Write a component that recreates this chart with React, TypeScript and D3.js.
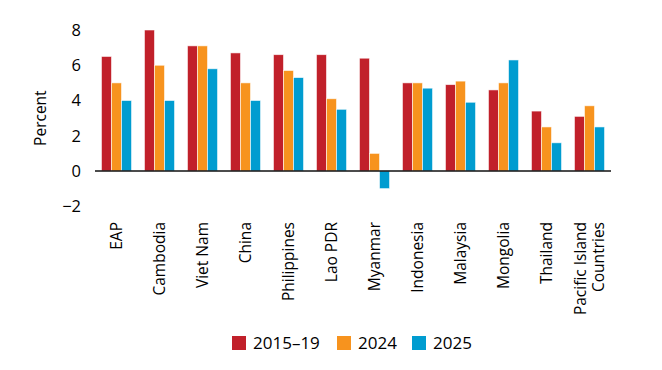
import React, {useEffect, useRef} from "react";
import * as d3 from "d3";

const paises = ["EAP", "Cambodia", "Viet Nam", "China", "Philippines", "Lao PDR", "Myanmar",
    "Indonesia", "Malaysia", "Mongolia", "Thailand", "Pacific Island\nCountries"];
const series = ["2015–19", "2024", "2025"];
const media2015a19 = [6.5, 8.0, 7.1, 6.7, 6.6, 6.6, 6.4, 5.0, 4.9, 4.6, 3.4, 3.1];
const valores2024 = [5.0, 6.0, 7.1, 5.0, 5.7, 4.1, 1.0, 5.0, 5.1, 5.0, 2.5, 3.7];
const valores2025 = [4.0, 4.0, 5.8, 4.0, 5.3, 3.5, -1.0, 4.7, 3.9, 6.3, 1.6, 2.5];
const yTicks = [-2, 0, 2, 4, 6, 8];
const cores = ["#c1202a", "#f7931e", "#009cd0"];

const LARGURA = 662;
const ALTURA = 370;
const FONTE = "'Open Sans', 'Noto Sans', sans-serif";

export default function App() {
    const ref = useRef<SVGSVGElement>(null);

    useEffect(() => {
        const svg = d3.select(ref.current);
        svg.selectAll("*").remove();

        const dados = [media2015a19, valores2024, valores2025];

        const x = d3.scaleBand<string>()
            .domain(paises)
            .range([95, 611])
            .paddingInner(0.3)
            .paddingOuter(0.15);

        const xSub = d3.scaleBand<string>()
            .domain(series)
            .range([0, x.bandwidth()]);

        const y = d3.scaleLinear()
            .domain([-2, 8])
            .range([171 + 2 * 17.625, 30]);

        const cor = d3.scaleOrdinal<string>().domain(series).range(cores);

        // barras
        svg.append("g")
            .selectAll("g")
            .data(paises)
            .join("g")
            .attr("transform", d => `translate(${x(d)}, 0)`)
            .selectAll("rect")
            .data((_, i) => series.map((s, j) => ({key: s, value: dados[j][i]})))
            .join("rect")
            .attr("x", d => xSub(d.key) ?? NaN)
            .attr("width", xSub.bandwidth())
            .attr("y", d => y(Math.max(0, d.value)))
            .attr("height", d => Math.abs(y(d.value) - y(0)))
            .attr("fill", d => cor(d.key))
            .attr("stroke", "#fff")
            .attr("stroke-opacity", 0.7)
            .attr("stroke-width", 0.8);

        // linha do zero
        svg.append("line")
            .attr("x1", 95)
            .attr("x2", 611)
            .attr("y1", y(0))
            .attr("y2", y(0))
            .attr("stroke", "#111")
            .attr("stroke-width", 1.5);

        // eixo y
        const eixoY = svg.append("g")
            .attr("transform", "translate(81, 0)")
            .call(d3.axisLeft(y).tickValues(yTicks).tickSize(0).tickPadding(0).tickFormat(d => d3.format("")(d as number).replace("-", "−")));
        eixoY.select(".domain").remove();
        eixoY.selectAll("text")
            .attr("font-family", FONTE)
            .attr("font-size", 16.5)
            .attr("fill", "#000");

        svg.append("text")
            .attr("transform", `translate(46, ${(y(-2) + y(8)) / 2}) rotate(-90)`)
            .attr("text-anchor", "middle")
            .attr("font-family", FONTE)
            .attr("font-size", 15.5)
            .attr("fill", "#000")
            .text("Percent");

        // rótulos das categorias
        svg.append("g")
            .selectAll("text")
            .data(paises)
            .join("text")
            .attr("transform", d => `translate(${(x(d) ?? 0) + x.bandwidth() / 2 + 5}, 222) rotate(-90)`)
            .attr("text-anchor", "end")
            .attr("font-family", FONTE)
            .attr("font-size", 15.5)
            .attr("fill", "#000")
            .each(function (d) {
                const linhas = d.split("\n");
                const t = d3.select(this);
                linhas.forEach((l, i) => {
                    t.append("tspan")
                        .attr("x", 0)
                        .attr("y", (i - (linhas.length - 1) / 2) * 18)
                        .text(l);
                });
            });

        // legenda
        const posLegenda = [232, 337, 412];
        const legenda = svg.append("g")
            .selectAll("g")
            .data(series)
            .join("g")
            .attr("transform", (_, i) => `translate(${posLegenda[i]}, 336)`);
        legenda.append("rect")
            .attr("width", 14)
            .attr("height", 14)
            .attr("fill", d => cor(d));
        legenda.append("text")
            .attr("x", 21)
            .attr("y", 13)
            .attr("font-family", FONTE)
            .attr("font-size", 17)
            .attr("fill", "#000")
            .text(d => d);
    }, []);

    return <svg
        ref={ref}
        width={LARGURA}
        height={ALTURA}
        style={{position: "absolute", left: 0, top: 0, background: "#fff"}}
    />;
}
